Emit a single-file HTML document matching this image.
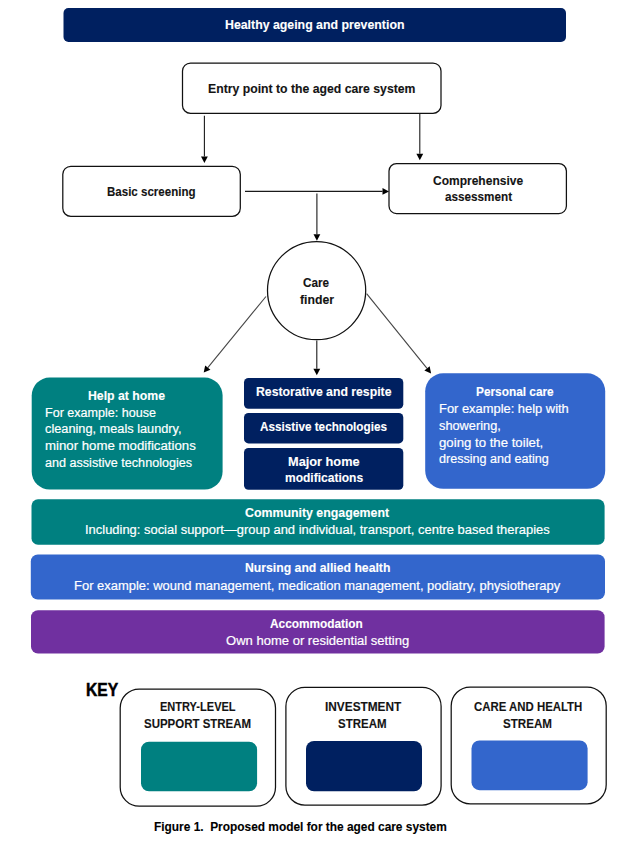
<!DOCTYPE html>
<html><head><meta charset="utf-8"><style>
html,body{margin:0;padding:0;background:#fff;width:635px;height:841px;overflow:hidden}
body{position:relative;font-family:"Liberation Sans",sans-serif}
svg{position:absolute;left:0;top:0}
.t{position:absolute;white-space:nowrap;transform-origin:0 0;-webkit-text-stroke:0.2px currentColor}
.b{-webkit-text-stroke:0.12px currentColor}
</style></head><body>
<svg width="635" height="841" viewBox="0 0 635 841">
<rect x="63.50" y="8.00" width="502.50" height="34.00" rx="5" fill="#002060"/>
<rect x="182.50" y="63.00" width="258.50" height="50.40" rx="8" fill="#fff" stroke="#111" stroke-width="1.25"/>
<rect x="62.80" y="166.30" width="177.50" height="50.00" rx="8" fill="#fff" stroke="#111" stroke-width="1.25"/>
<rect x="389.00" y="163.50" width="177.40" height="50.10" rx="7.5" fill="#fff" stroke="#111" stroke-width="1.25"/>
<circle cx="316.6" cy="290.6" r="49.1" fill="#fff" stroke="#111" stroke-width="1.25"/>
<line x1="204.40" y1="115.70" x2="204.40" y2="156.50" stroke="#1a1a1a" stroke-width="1.1"/><polygon points="204.40,163.00 201.00,156.50 207.80,156.50" fill="#000"/>
<line x1="419.80" y1="113.50" x2="419.80" y2="153.80" stroke="#1a1a1a" stroke-width="1.1"/><polygon points="419.80,160.30 416.40,153.80 423.20,153.80" fill="#000"/>
<line x1="245.00" y1="191.40" x2="382.50" y2="191.40" stroke="#1a1a1a" stroke-width="1.1"/><polygon points="389.00,191.40 382.50,194.80 382.50,188.00" fill="#000"/>
<line x1="316.90" y1="193.40" x2="316.90" y2="234.30" stroke="#1a1a1a" stroke-width="1.1"/><polygon points="316.90,240.80 313.50,234.30 320.30,234.30" fill="#000"/>
<line x1="266.00" y1="296.50" x2="207.82" y2="367.57" stroke="#444" stroke-width="1.1"/><polygon points="203.70,372.60 205.19,365.42 210.45,369.72" fill="#000"/>
<line x1="316.80" y1="340.50" x2="316.80" y2="368.80" stroke="#1a1a1a" stroke-width="1.1"/><polygon points="316.80,375.30 313.40,368.80 320.20,368.80" fill="#000"/>
<line x1="366.60" y1="293.70" x2="427.01" y2="368.44" stroke="#444" stroke-width="1.1"/><polygon points="431.10,373.50 424.37,370.58 429.66,366.31" fill="#000"/>
<rect x="31.70" y="377.60" width="190.90" height="111.90" rx="18" fill="#008080"/>
<rect x="244.00" y="377.90" width="159.30" height="30.90" rx="4.5" fill="#002060"/>
<rect x="244.00" y="413.00" width="159.30" height="30.40" rx="4.5" fill="#002060"/>
<rect x="244.00" y="447.90" width="159.30" height="41.90" rx="4.5" fill="#002060"/>
<rect x="425.20" y="373.30" width="180.00" height="115.50" rx="18" fill="#3366CC"/>
<rect x="31.50" y="499.30" width="573.10" height="45.40" rx="6.5" fill="#008080"/>
<rect x="30.80" y="554.40" width="574.20" height="45.20" rx="7" fill="#3366CC"/>
<rect x="31.00" y="610.20" width="573.60" height="43.40" rx="7" fill="#7030A0"/>
<rect x="120.20" y="689.00" width="155.30" height="117.20" rx="19" fill="#fff" stroke="#111" stroke-width="1.25"/>
<rect x="285.90" y="687.30" width="155.20" height="117.80" rx="19" fill="#fff" stroke="#111" stroke-width="1.25"/>
<rect x="451.20" y="687.00" width="155.00" height="116.80" rx="19" fill="#fff" stroke="#111" stroke-width="1.25"/>
<rect x="141.00" y="741.70" width="116.10" height="49.60" rx="8" fill="#008080"/>
<rect x="306.00" y="741.00" width="116.00" height="50.30" rx="8" fill="#002060"/>
<rect x="471.50" y="740.40" width="116.10" height="49.80" rx="8" fill="#3366CC"/>
</svg>
<div class="t b" style="left:225.40px;top:19.30px;font-size:12.65px;line-height:12.65px;font-weight:700;color:#fff;transform:scaleX(0.9751)">Healthy ageing and prevention</div>
<div class="t b" style="left:208.00px;top:82.30px;font-size:13.08px;line-height:13.08px;font-weight:700;color:#141414;transform:scaleX(0.9359)">Entry point to the aged care system</div>
<div class="t b" style="left:107.30px;top:185.30px;font-size:13.08px;line-height:13.08px;font-weight:700;color:#141414;transform:scaleX(0.8821)">Basic screening</div>
<div class="t b" style="left:432.90px;top:174.30px;font-size:13.08px;line-height:13.08px;font-weight:700;color:#141414;transform:scaleX(0.9181)">Comprehensive</div>
<div class="t b" style="left:444.60px;top:190.30px;font-size:13.08px;line-height:13.08px;font-weight:700;color:#141414;transform:scaleX(0.8958)">assessment</div>
<div class="t b" style="left:303.30px;top:276.30px;font-size:13.08px;line-height:13.08px;font-weight:700;color:#141414;transform:scaleX(0.8971)">Care</div>
<div class="t b" style="left:299.50px;top:293.30px;font-size:13.08px;line-height:13.08px;font-weight:700;color:#141414;transform:scaleX(0.9384)">finder</div>
<div class="t b" style="left:87.60px;top:389.30px;font-size:13.08px;line-height:13.08px;font-weight:700;color:#fff;transform:scaleX(0.9387)">Help at home</div>
<div class="t" style="left:45.10px;top:406.30px;font-size:13.08px;line-height:13.08px;font-weight:400;color:#fff;transform:scaleX(0.9610)">For example: house</div>
<div class="t" style="left:45.10px;top:422.30px;font-size:13.08px;line-height:13.08px;font-weight:400;color:#fff;transform:scaleX(0.9750)">cleaning, meals laundry,</div>
<div class="t" style="left:45.10px;top:439.30px;font-size:13.08px;line-height:13.08px;font-weight:400;color:#fff;transform:scaleX(1.0117)">minor home modifications</div>
<div class="t" style="left:45.10px;top:456.30px;font-size:13.08px;line-height:13.08px;font-weight:400;color:#fff;transform:scaleX(0.9632)">and assistive technologies</div>
<div class="t b" style="left:255.60px;top:385.30px;font-size:13.08px;line-height:13.08px;font-weight:700;color:#fff;transform:scaleX(0.9365)">Restorative and respite</div>
<div class="t b" style="left:260.00px;top:420.30px;font-size:13.08px;line-height:13.08px;font-weight:700;color:#fff;transform:scaleX(0.8959)">Assistive technologies</div>
<div class="t b" style="left:287.70px;top:455.30px;font-size:13.08px;line-height:13.08px;font-weight:700;color:#fff;transform:scaleX(0.9753)">Major home</div>
<div class="t b" style="left:284.50px;top:471.30px;font-size:13.08px;line-height:13.08px;font-weight:700;color:#fff;transform:scaleX(0.9184)">modifications</div>
<div class="t b" style="left:476.20px;top:385.30px;font-size:13.08px;line-height:13.08px;font-weight:700;color:#fff;transform:scaleX(0.9054)">Personal care</div>
<div class="t" style="left:439.10px;top:402.30px;font-size:13.08px;line-height:13.08px;font-weight:400;color:#fff;transform:scaleX(0.9863)">For example: help with</div>
<div class="t" style="left:439.10px;top:419.30px;font-size:13.08px;line-height:13.08px;font-weight:400;color:#fff;transform:scaleX(0.9769)">showering,</div>
<div class="t" style="left:439.10px;top:436.30px;font-size:13.08px;line-height:13.08px;font-weight:400;color:#fff;transform:scaleX(1.0099)">going to the toilet,</div>
<div class="t" style="left:439.10px;top:452.30px;font-size:13.08px;line-height:13.08px;font-weight:400;color:#fff;transform:scaleX(0.9625)">dressing and eating</div>
<div class="t b" style="left:245.20px;top:508.30px;font-size:11.92px;line-height:11.92px;font-weight:700;color:#fff;transform:scaleX(1.0369)">Community engagement</div>
<div class="t" style="left:84.60px;top:523.30px;font-size:13.08px;line-height:13.08px;font-weight:400;color:#fff;transform:scaleX(0.9894)">Including: social support—group and individual, transport, centre based therapies</div>
<div class="t b" style="left:244.60px;top:562.31px;font-size:12.50px;line-height:12.50px;font-weight:700;color:#fff;transform:scaleX(0.9782)">Nursing and allied health</div>
<div class="t" style="left:74.20px;top:579.30px;font-size:13.08px;line-height:13.08px;font-weight:400;color:#fff;transform:scaleX(0.9913)">For example: wound management, medication management, podiatry, physiotherapy</div>
<div class="t b" style="left:270.40px;top:618.32px;font-size:12.79px;line-height:12.79px;font-weight:700;color:#fff;transform:scaleX(0.9271)">Accommodation</div>
<div class="t" style="left:225.70px;top:634.30px;font-size:13.08px;line-height:13.08px;font-weight:400;color:#fff;transform:scaleX(0.9964)">Own home or residential setting</div>
<div class="t b" style="left:86.30px;top:681.31px;font-size:18.90px;line-height:18.90px;font-weight:700;color:#000;transform:scaleX(0.8289);-webkit-text-stroke:0.5px currentColor">KEY</div>
<div class="t b" style="left:160.00px;top:701.31px;font-size:12.50px;line-height:12.50px;font-weight:700;color:#141414;transform:scaleX(0.8825)">ENTRY-LEVEL</div>
<div class="t b" style="left:143.80px;top:718.31px;font-size:12.50px;line-height:12.50px;font-weight:700;color:#141414;transform:scaleX(0.9179)">SUPPORT STREAM</div>
<div class="t b" style="left:325.00px;top:701.31px;font-size:12.50px;line-height:12.50px;font-weight:700;color:#141414;transform:scaleX(0.9471)">INVESTMENT</div>
<div class="t b" style="left:338.20px;top:718.31px;font-size:12.50px;line-height:12.50px;font-weight:700;color:#141414;transform:scaleX(0.9190)">STREAM</div>
<div class="t b" style="left:474.20px;top:701.31px;font-size:12.50px;line-height:12.50px;font-weight:700;color:#141414;transform:scaleX(0.9120)">CARE AND HEALTH</div>
<div class="t b" style="left:503.00px;top:718.31px;font-size:12.50px;line-height:12.50px;font-weight:700;color:#141414;transform:scaleX(0.9285)">STREAM</div>
<div class="t b" style="left:154.40px;top:821.32px;font-size:12.79px;line-height:12.79px;font-weight:700;color:#000;transform:scaleX(0.9305)">Figure 1.&nbsp; Proposed model for the aged care system</div>
</body></html>
